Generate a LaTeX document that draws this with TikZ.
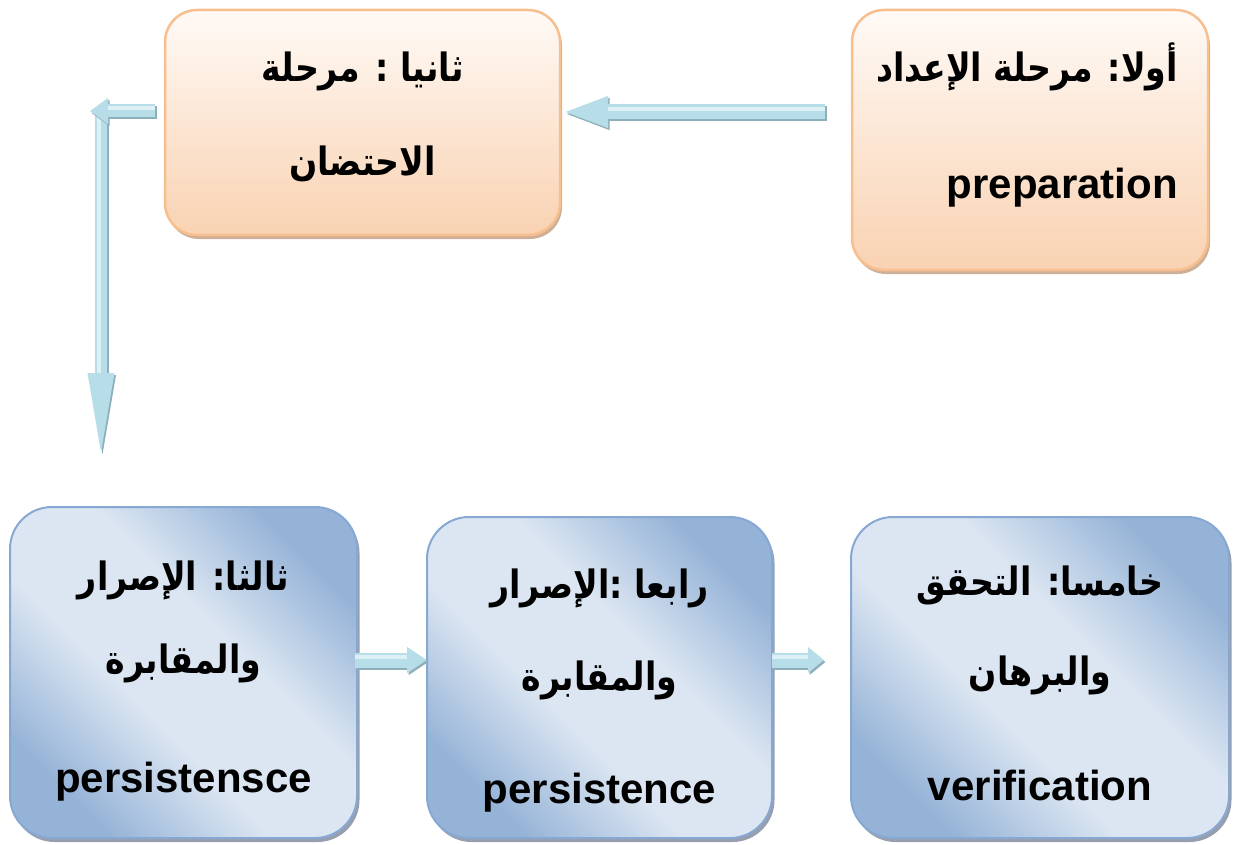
\documentclass[tikz,border=0pt]{standalone}
\usepackage{fontspec}
\setmainfont{Liberation Sans}
\newfontfamily\arabicfont[Script=Arabic,FakeStretch=0.85]{DejaVu Sans}
\TeXXeTstate=1
\usetikzlibrary{arrows.meta,shadows,calc}

\definecolor{peachtop}{HTML}{FFFAF6}
\definecolor{peachbot}{HTML}{F9D2B2}
\definecolor{peachedge}{HTML}{F8BF8E}
\definecolor{peachshadow}{HTML}{C9A68C}
\definecolor{blight}{HTML}{DCE6F2}
\definecolor{bdark}{HTML}{95B3D7}
\definecolor{blueedge}{HTML}{86A8D3}
\definecolor{blueshadow}{HTML}{8C95A6}
\definecolor{arrowfill}{HTML}{B7DEE8}
\definecolor{arrowshadow}{HTML}{8DAFBB}
\definecolor{arrowhi}{HTML}{DDF0F5}

\pgfdeclarehorizontalshading{bluediag}{100bp}{color(0bp)=(bdark); color(25bp)=(bdark); color(42bp)=(blight); color(58bp)=(blight); color(75bp)=(bdark); color(100bp)=(bdark)}

\newcommand\artext[1]{{\arabicfont\bfseries\fontsize{39}{46}\selectfont\beginR #1\endR}}
\newcommand\latext[1]{{\bfseries\fontsize{42}{50}\selectfont #1}}

% block arrow: shaft width, head length, head width, start, end, highlight width, highlight shift
\newcommand\blockarrow[7]{%
  \draw[line width=#1, draw=arrowshadow, -{Triangle[length=#2,width=#3]},
        transform canvas={shift={(1.5pt,-2pt)}}] #4 -- #5;
  \draw[line width=#1, draw=arrowfill, -{Triangle[length=#2,width=#3]}] #4 -- #5;
  \draw[line width=#6, draw=arrowhi, shorten >=#2, transform canvas={shift={#7}}] #4 -- #5;
}

\begin{document}
\begin{tikzpicture}[x=1pt,y=-1pt,
  peachbox/.style={rectangle, rounded corners=32pt, draw=peachedge, line width=2.5pt,
    top color=peachtop, bottom color=peachbot, inner sep=0pt, outer sep=0pt,
    drop shadow={shadow xshift=2pt, shadow yshift=-4pt, fill=peachshadow, opacity=0.9}},
  bluebox/.style={rectangle, rounded corners=42pt, draw=blueedge, line width=2pt,
    shading=bluediag, shading angle=45, inner sep=0pt, outer sep=0pt,
    drop shadow={shadow xshift=2.5pt, shadow yshift=-4pt, fill=blueshadow, opacity=0.9}},
  lbl/.style={inner sep=0pt, text=black}]
\useasboundingbox (0,0) rectangle (1236,845);

% stage boxes
\node[peachbox, minimum width=356pt, minimum height=260pt] (A) at (1030,140) {};
\node[peachbox, minimum width=395pt, minimum height=225pt] (B) at (362.5,122.5) {};
\node[bluebox, minimum width=347pt, minimum height=331pt] (C) at (183.5,672.5) {};
\node[bluebox, minimum width=345pt, minimum height=321pt] (D) at (599.5,677.5) {};
\node[bluebox, minimum width=378pt, minimum height=321pt] (E) at (1040,677.5) {};

% connectors
\blockarrow{15pt}{46pt}{28pt}{($(A.west)+(-27,-28)$)}{($(B.east)+(2,-10.5)$)}{4pt}{(0pt,3pt)}
\blockarrow{12pt}{92pt}{23pt}{($(B.west)+(-64,-8)$)}{($(C.north west)+(91,-42)$)}{4pt}{(-2.5pt,0pt)}
\blockarrow{13pt}{18pt}{25pt}{($(B.west)+(-10,-11.5)$)}{($(B.west)+(-75,-11.5)$)}{4pt}{(0pt,3pt)}
\blockarrow{15pt}{20pt}{25pt}{($(C.east)+(-2,-12.5)$)}{($(D.west)+(0,-17.5)$)}{4pt}{(0pt,3pt)}
\blockarrow{15pt}{16pt}{25pt}{($(D.east)+(0,-17.5)$)}{($(E.west)+(-27,-17.5)$)}{4pt}{(0pt,3pt)}

% labels
\node[lbl, anchor=base east] (A1) at ($(A.north west)+(326,72)$) {\artext{أولا: مرحلة الإعداد}};
\node[lbl, anchor=base east] (A2) at ($(A.north west)+(326,188)$) {\latext{preparation}};

\node[lbl, anchor=base] (B1) at ($(B.north)+(0,72)$) {\artext{ثانيا : مرحلة}};
\node[lbl, anchor=base] (B2) at ($(B.north)+(0,166)$) {\artext{الاحتضان}};

\node[lbl, anchor=base] (C1) at ($(C.north)+(0,83)$) {\artext{ثالثا: الإصرار}};
\node[lbl, anchor=base] (C2) at ($(C.north)+(0,166)$) {\artext{والمقابرة}};
\node[lbl, anchor=base] (C3) at ($(C.north)+(0,285)$) {\latext{persistensce}};

\node[lbl, anchor=base] (D1) at ($(D.north)+(0,81)$) {\artext{رابعا :الإصرار}};
\node[lbl, anchor=base] (D2) at ($(D.north)+(0,173)$) {\artext{والمقابرة}};
\node[lbl, anchor=base] (D3) at ($(D.north)+(0,286)$) {\latext{persistence}};

\node[lbl, anchor=base] (E1) at ($(E.north)+(0,78)$) {\artext{خامسا: التحقق}};
\node[lbl, anchor=base] (E2) at ($(E.north)+(0,168)$) {\artext{والبرهان}};
\node[lbl, anchor=base] (E3) at ($(E.north)+(0,283)$) {\latext{verification}};
\end{tikzpicture}
\end{document}
